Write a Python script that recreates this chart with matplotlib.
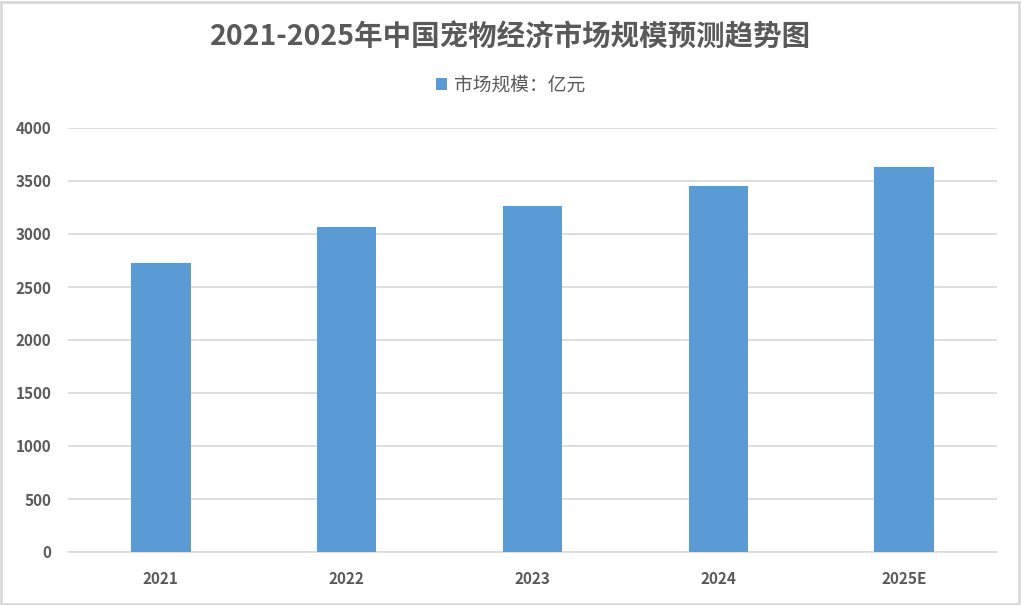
import matplotlib.pyplot as plt
from matplotlib.patches import Rectangle

plt.rcParams['font.family'] = ['Noto Sans CJK SC', 'DejaVu Sans']

years = ['2021', '2022', '2023', '2024', '2025E']
market_size = [2727, 3066, 3264, 3453, 3632]
y_ticks = [0, 500, 1000, 1500, 2000, 2500, 3000, 3500, 4000]

bar_color = '#5B9BD5'
text_color = '#595959'

fig = plt.figure(figsize=(10.21, 6.05), dpi=100)
ax = fig.add_axes([68 / 1021, 1 - 552 / 605, (997 - 68) / 1021, (552 - 128) / 605])

x = range(len(years))
ax.bar(x, market_size, width=0.32, color=bar_color, zorder=3, label='市场规模：亿元')

ax.set_xlim(-0.5, len(years) - 0.5)
ax.set_ylim(0, 4000)
ax.set_yticks(y_ticks)
ax.set_xticks(list(x))
ax.set_xticklabels(years)
ax.grid(axis='y', color='#D9D9D9', linewidth=1.2, zorder=0)

for side in ['top', 'right', 'left']:
    ax.spines[side].set_visible(False)
ax.spines['bottom'].set_color('#D9D9D9')
ax.spines['bottom'].set_linewidth(1.2)
ax.tick_params(axis='both', length=0, labelsize=11, labelcolor=text_color)
ax.tick_params(axis='x', pad=14)
ax.tick_params(axis='y', pad=12)
for lbl in ax.get_xticklabels() + ax.get_yticklabels():
    lbl.set_fontweight('bold')

fig.text(0.5, 1 - 37 / 605, '2021-2025年中国宠物经济市场规模预测趋势图',
         ha='center', va='center', fontsize=20.5, fontweight='bold', color=text_color)

fig.legend(loc='center', bbox_to_anchor=(0.5, 1 - 85 / 605), frameon=False,
           fontsize=13.5, handlelength=0.6, handleheight=0.6, handletextpad=0.4,
           labelcolor=text_color)

# light border around the whole picture
fig.patches.append(Rectangle((0.001, 0.002), 0.997, 0.995, transform=fig.transFigure,
                             fill=False, edgecolor='#D9D9D9', linewidth=2))

fig.savefig('out.png', dpi=100)
